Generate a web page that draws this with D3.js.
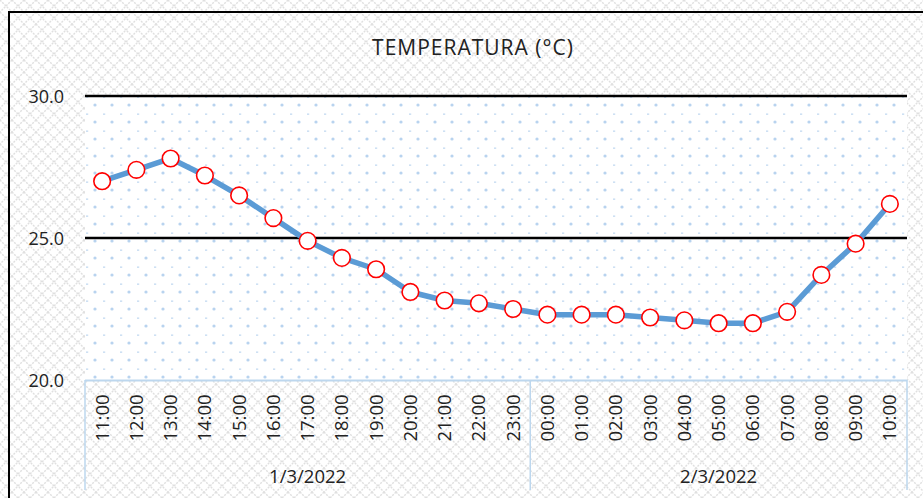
<!DOCTYPE html>
<meta charset="utf-8">
<style>
  body { margin: 0; background: #fff; }
  text { font-family: "Open Sans", "DejaVu Sans", sans-serif; fill: #222; }
</style>
<div id="chart"></div>
<script src="https://cdn.jsdelivr.net/npm/d3@7"></script>
<script>
// values
var hours = ["11:00","12:00","13:00","14:00","15:00","16:00","17:00","18:00","19:00","20:00","21:00","22:00","23:00",
             "00:00","01:00","02:00","03:00","04:00","05:00","06:00","07:00","08:00","09:00","10:00"];
var days = ["1/3/2022", "2/3/2022"];
var dayOf = [0,0,0,0,0,0,0,0,0,0,0,0,0, 1,1,1,1,1,1,1,1,1,1,1];
var temps = [27.0, 27.4, 27.8, 27.2, 26.5, 25.7, 24.9, 24.3, 23.9, 23.1, 22.8, 22.7, 22.5,
             22.3, 22.3, 22.3, 22.2, 22.1, 22.0, 22.0, 22.4, 23.7, 24.8, 26.2];
var yTicks = [20, 25, 30];

var W = 923, H = 498;
var plot = {left: 85, right: 907, top: 96, bottom: 380};

var svg = d3.select("#chart").append("svg")
    .attr("width", W).attr("height", H);

var defs = svg.append("defs");
// lattice background
var lat = defs.append("pattern").attr("id", "lattice")
    .attr("width", 12).attr("height", 12).attr("patternUnits", "userSpaceOnUse");
lat.append("rect").attr("width", 12).attr("height", 12).attr("fill", "#fff");
lat.append("path").attr("d", "M0,0L12,12M12,0L0,12")
    .attr("stroke", "#e0e0e0").attr("stroke-width", 1.4).attr("stroke-dasharray", "2,1.2");
// dotted plot area
var dots = defs.append("pattern").attr("id", "dots")
    .attr("width", 17).attr("height", 17).attr("patternUnits", "userSpaceOnUse")
    .attr("x", plot.left).attr("y", plot.top);
dots.append("rect").attr("width", 17).attr("height", 17).attr("fill", "#fff");
dots.append("circle").attr("cx", 10).attr("cy", 9).attr("r", 1.6).attr("fill", "#b8d3ef");
dots.append("rect").attr("x", 1).attr("y", 0.5).attr("width", 2.2).attr("height", 1.3).attr("fill", "#c2d9f1");

svg.append("rect").attr("width", W).attr("height", H).attr("fill", "url(#lattice)");
// outer border
svg.append("path").attr("d", "M9," + H + "V12H" + W)
    .attr("fill", "none").attr("stroke", "#000").attr("stroke-width", 2);

var x = d3.scaleBand().domain(d3.range(hours.length))
    .range([plot.left, plot.right]);
var y = d3.scaleLinear().domain([20, 30]).range([plot.bottom, plot.top]);

svg.append("rect")
    .attr("x", plot.left).attr("y", plot.top)
    .attr("width", plot.right - plot.left).attr("height", plot.bottom - plot.top)
    .attr("fill", "url(#dots)");

// title
svg.append("text").attr("x", 473).attr("y", 55)
    .attr("text-anchor", "middle").attr("font-size", 21).attr("letter-spacing", 1)
    .text("TEMPERATURA (°C)");

// gridlines
svg.selectAll(".grid").data(yTicks.filter(function(d) { return d > 20; }))
  .enter().append("line")
    .attr("x1", plot.left).attr("x2", plot.right)
    .attr("y1", function(d) { return y(d); }).attr("y2", function(d) { return y(d); })
    .attr("stroke", "#000").attr("stroke-width", 2.5);

// y labels
svg.selectAll(".ylab").data(yTicks).enter().append("text")
    .attr("x", 64).attr("y", function(d) { return y(d) + 6.5; })
    .attr("text-anchor", "end").attr("font-size", 18)
    .text(function(d) { return d3.format(".1f")(d); });

// category axis
var axisCol = "#bdd7ee";
svg.append("line").attr("x1", plot.left).attr("x2", plot.right)
    .attr("y1", plot.bottom + 0.5).attr("y2", plot.bottom + 0.5)
    .attr("stroke", axisCol).attr("stroke-width", 2);
var sep = [plot.left, x(13), plot.right];
svg.selectAll(".sep").data(sep).enter().append("line")
    .attr("x1", function(d) { return d; }).attr("x2", function(d) { return d; })
    .attr("y1", plot.bottom).attr("y2", 490)
    .attr("stroke", axisCol).attr("stroke-width", 1.5);

svg.selectAll(".xlab").data(hours).enter().append("text")
    .attr("transform", function(d, i) {
      return "translate(" + (x(i) + x.bandwidth() / 2 + 6.5) + ",418) rotate(-90)";
    })
    .attr("text-anchor", "middle").attr("font-size", 18.5)
    .text(function(d) { return d; });

svg.selectAll(".day").data(days).enter().append("text")
    .attr("x", function(d, i) {
      var idx = dayOf.map(function(v, k) { return v === i ? k : -1; }).filter(function(k) { return k >= 0; });
      return (x(idx[0]) + x(idx[idx.length - 1]) + x.bandwidth()) / 2;
    })
    .attr("y", 483).attr("text-anchor", "middle").attr("font-size", 18.5)
    .text(function(d) { return d; });

// series
var line = d3.line()
    .x(function(d, i) { return x(i) + x.bandwidth() / 2; })
    .y(function(d) { return y(d); });
svg.append("path").datum(temps)
    .attr("d", line).attr("fill", "none")
    .attr("stroke", "#5b9bd5").attr("stroke-width", 5.5).attr("stroke-linejoin", "round");
svg.selectAll(".pt").data(temps).enter().append("circle")
    .attr("cx", function(d, i) { return x(i) + x.bandwidth() / 2; })
    .attr("cy", function(d) { return y(d); })
    .attr("r", 8.3).attr("fill", "#fff").attr("stroke", "#ff0000").attr("stroke-width", 1.6);
</script>
